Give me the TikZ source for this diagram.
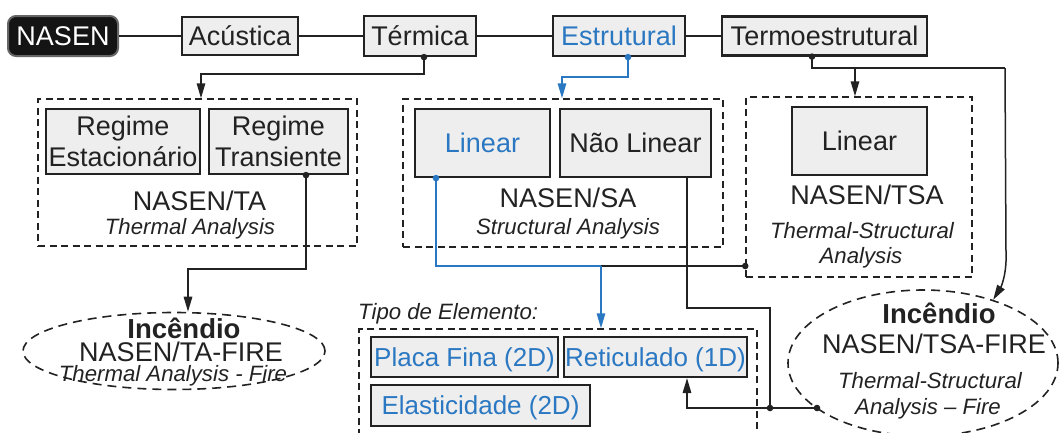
\documentclass[tikz,border=0pt]{standalone}
\usepackage{fontspec}
\setmainfont{Liberation Sans}
\usetikzlibrary{arrows.meta,calc,shapes.geometric}
\definecolor{boxfill}{HTML}{EEEEEE}
\definecolor{boxline}{HTML}{222222}
\definecolor{myblue}{HTML}{2B78C2}
\newcommand\fmain{\fontsize{27}{31}\selectfont}
\newcommand\fblu{\fontsize{26}{31}\selectfont}
\newcommand\fital{\fontsize{22.2}{26}\selectfont\itshape}
\newcommand\fbld{\fontsize{27.5}{32}\selectfont\bfseries}
\begin{document}
\begin{tikzpicture}[x=1pt,y=-1pt,
  box/.style={draw=boxline, line width=2.2pt, fill=boxfill, inner sep=0pt,
    font=\fmain, text=boxline, text height=19.3pt, text depth=0pt},
  boxtwo/.style={draw=boxline, line width=2.2pt, fill=boxfill, inner sep=0pt,
    font=\fmain, text=boxline, align=center},
  headbox/.style={draw=gray!80!black, line width=2pt, fill=black!92, rounded corners=8pt,
    inner sep=0pt, font=\fmain, text=white, text height=19.3pt, text depth=0pt},
  grp/.style={draw=boxline, line width=1.5pt, dash pattern=on 7pt off 4.5pt, inner sep=0pt},
  ell/.style={ellipse, draw=boxline, line width=1.6pt, dash pattern=on 9pt off 6pt, inner sep=0pt},
  lbl/.style={font=\fmain, text=boxline, inner sep=0pt},
  ilbl/.style={font=\fital, text=boxline, inner sep=0pt},
  blbl/.style={font=\fbld, text=boxline, inner sep=0pt},
  conn/.style={line width=1.5pt, draw=boxline},
  arr/.style={-{Triangle[length=15pt,width=8.5pt]}},
  bluetext/.style={text=myblue},
  blubox/.style={box, font=\fblu, text=myblue, text height=18.6pt}
]
\useasboundingbox (0,0) rectangle (1061,432);
\clip (0,0) rectangle (1061,432);

% top row
\node[headbox, minimum width=110pt, minimum height=40pt] (nasen) at (63,36) {NASEN};
\node[box, minimum width=116pt, minimum height=38pt] (acustica) at (240,36) {Acústica};
\node[box, minimum width=112pt, minimum height=40pt] (termica) at (420,36) {Térmica};
\node[box, bluetext, minimum width=132pt, minimum height=40pt] (estrutural) at (619,36) {Estrutural};
\node[box, minimum width=205pt, minimum height=39pt] (termoest) at (824.5,36) {Termoestrutural};
\draw[conn] (nasen) -- (acustica) -- (termica) -- (estrutural) -- (termoest);

% groups
\node[grp, minimum width=319pt, minimum height=147pt] (ta) at (197.5,172.5) {};
\node[grp, minimum width=320pt, minimum height=148pt] (sa) at (563,173) {};
\node[grp, minimum width=226pt, minimum height=180pt] (tsa) at (859,187) {};

\node[boxtwo, minimum width=154pt, minimum height=65pt] (estac) at (123,141.5) {Regime\\Estacionário};
\node[boxtwo, minimum width=139pt, minimum height=65pt] (trans) at (278.5,141.5) {Regime\\Transiente};
\node[box, bluetext, minimum width=135pt, minimum height=68pt] (linsa) at (482.5,143) {Linear};
\node[box, minimum width=151pt, minimum height=68pt] (naolin) at (635.5,143) {Não Linear};
\node[box, minimum width=135pt, minimum height=68pt] (lintsa) at (859.5,141) {Linear};

\node[lbl, anchor=base] (talbl) at (199.5,210) {NASEN/TA};
\node[ilbl, anchor=base] (tasub) at (190,234) {Thermal Analysis};
\node[lbl, anchor=base] (salbl) at (568,207) {NASEN/SA};
\node[ilbl, anchor=base] (sasub) at (568,234) {Structural Analysis};
\node[lbl, anchor=base] (tsalbl) at (867,204) {NASEN/TSA};
\node[ilbl, anchor=base] (tsasuba) at (862,238) {Thermal-Structural};
\node[ilbl, anchor=base] (tsasubb) at (861,263) {Analysis};

% element types
\node[ilbl, anchor=base west] (tipolbl) at (358,319) {Tipo de Elemento:};
\node[grp, minimum width=398pt, minimum height=116pt] (tipo) at (558,387) {};
\node[blubox, minimum width=187pt, minimum height=40pt] (placa) at (464.5,357) {Placa Fina (2D)};
\node[blubox, minimum width=183pt, minimum height=40pt] (retic) at (655.5,357) {Reticulado (1D)};
\node[blubox, minimum width=219pt, minimum height=41pt] (elast) at (480.5,405.5) {Elasticidade (2D)};

% fire ellipses
\node[ell, minimum width=302pt, minimum height=77pt] (tafire) at (174,351) {};
\node[blbl, anchor=base] (tafa) at (184,338.5) {Incêndio};
\node[lbl, anchor=base] (tafb) at (181,361) {NASEN/TA-FIRE};
\node[ilbl, anchor=base] (tafc) at (173,381.5) {Thermal Analysis - Fire};

\node[ell, minimum width=270pt, minimum height=146pt] (tsafire) at (923,363) {};
\node[blbl, anchor=base] (tsfa) at (939,323) {Incêndio};
\node[lbl, anchor=base] (tsfb) at (934,353) {NASEN/TSA-FIRE};
\node[ilbl, anchor=base] (tsfc) at (930,388) {Thermal-Structural};
\node[ilbl, anchor=base] (tsfd) at (928,414) {Analysis – Fire};

% connectors
\coordinate (tdot) at ([xshift=4pt]termica.south);
\draw[conn, arr] (tdot) -- ++(0,17) -| ([xshift=3.5pt]ta.north);
\fill[boxline] (tdot) circle (3.3pt);

\coordinate (edot) at ([xshift=9pt]estrutural.south);
\draw[conn, draw=myblue, arr] (edot) -- ++(0,20) -| ([xshift=-1pt]sa.north);
\fill[myblue] (edot) circle (3.3pt);

\coordinate (tedot) at ([xshift=-12.5pt]termoest.south);
\coordinate (tcorner) at (1005,68);
\coordinate (tsatop) at ([xshift=-4pt]tsa.north);
\draw[conn] (tedot) |- (tcorner);
\draw[conn, arr] (tsatop |- tcorner) -- (tsatop);
\draw[conn, arr] (tcorner) -- (1006,252) .. controls (1007,274) and (1001,287) .. (tsafire.42);
\fill[boxline] (tedot) circle (3.3pt);

\coordinate (trdot) at ([xshift=27.5pt]trans.south);
\draw[conn, arr] (trdot) -- ++(0,94) -| ([xshift=14pt]tafire.north);
\fill[boxline] (trdot) circle (3.3pt);

\coordinate (ldot) at ([xshift=-46.5pt]linsa.south);
\coordinate (bturn) at (601,266);
\coordinate (tsadot) at (tsa.west |- bturn);
\draw[conn] (bturn) -- (tsadot);
\draw[conn, draw=myblue] (ldot) |- (bturn);
\draw[conn, draw=myblue, arr] (bturn) -- (bturn |- tipo.north);
\fill[myblue] (ldot) circle (3.3pt);
\fill[boxline] (tsadot) circle (3.3pt);

\coordinate (ndot) at ([xshift=51.5pt]naolin.south);
\coordinate (njoin) at (770,408);
\draw[conn] (ndot) -- ++(0,130) -| (njoin);
\coordinate (fdot) at (817,408);
\draw[conn, arr] (fdot) -| ([xshift=31.5pt]retic.south);
\fill[boxline] (njoin) circle (3.3pt);
\fill[boxline] (fdot) circle (3.3pt);
\end{tikzpicture}
\end{document}
